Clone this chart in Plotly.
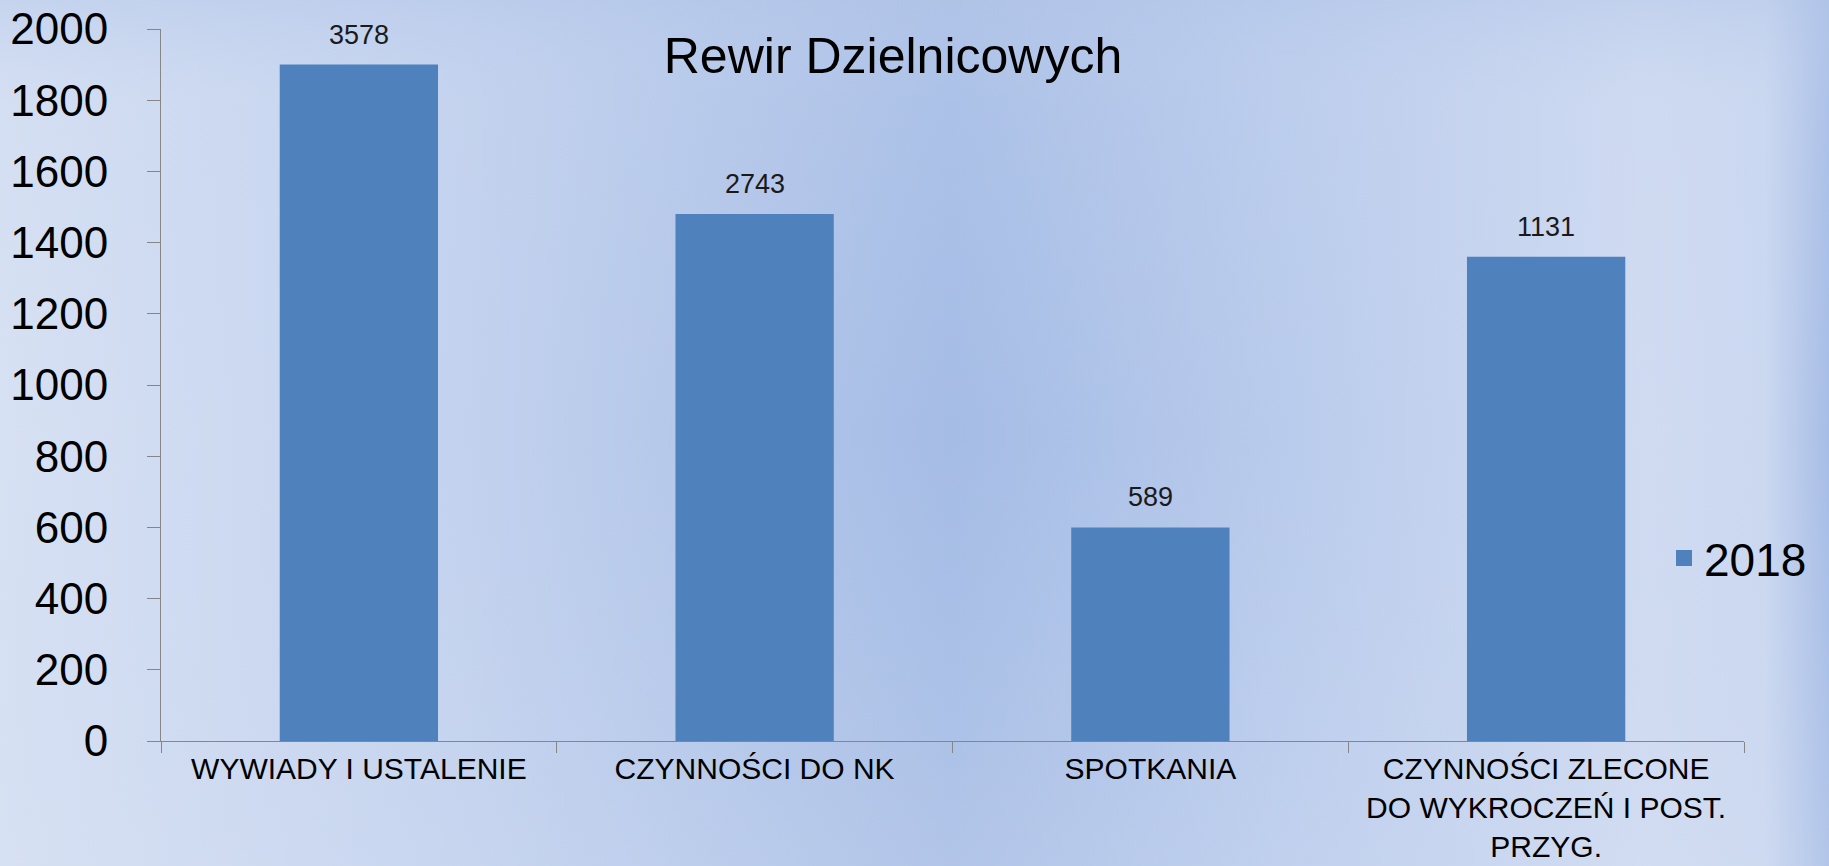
import base64
import plotly.graph_objects as go

# ---- data ----
categories = ["WYWIADY I USTALENIE", "CZYNNOŚCI DO NK", "SPOTKANIA",
              "CZYNNOŚCI ZLECONE DO WYKROCZEŃ I POST. PRZYG."]
tick_labels = ["WYWIADY I USTALENIE", "CZYNNOŚCI DO NK", "SPOTKANIA",
               "CZYNNOŚCI ZLECONE<br>DO WYKROCZEŃ I POST.<br>PRZYG."]
bar_heights = [1900, 1480, 600, 1360]
value_labels = ["3578", "2743", "589", "1131"]
series_name = "2018"
y_ticks = [0, 200, 400, 600, 800, 1000, 1200, 1400, 1600, 1800, 2000]

W, H = 1829, 866
ML, MR, MT, MB = 161, 85, 29, 125
FONT = "Liberation Sans, Arial, sans-serif"
BAR = "#4f81bd"

# background gradient as inline SVG
svg = f"""<svg xmlns='http://www.w3.org/2000/svg' width='{W}' height='{H}' viewBox='0 0 {W} {H}' preserveAspectRatio='none'>
<defs>
<linearGradient id='h' x1='0' y1='0' x2='1' y2='0'>
<stop offset='0' stop-color='#d7e1f3'/>
<stop offset='0.25' stop-color='#c3d2ee'/>
<stop offset='0.52' stop-color='#a5bce5'/>
<stop offset='0.7' stop-color='#b9cbec'/>
<stop offset='0.9' stop-color='#d0dbf1'/>
<stop offset='0.965' stop-color='#cbd8f0'/>
<stop offset='1' stop-color='#a7bde6'/>
</linearGradient>
<linearGradient id='v' x1='0' y1='0' x2='0' y2='1'>
<stop offset='0' stop-color='#b7c9ea' stop-opacity='0.55'/>
<stop offset='0.12' stop-color='#c8d6f0' stop-opacity='0.2'/>
<stop offset='0.5' stop-color='#c8d6f0' stop-opacity='0'/>
<stop offset='1' stop-color='#d6e0f3' stop-opacity='0.25'/>
</linearGradient>
</defs>
<rect x='0' y='0' width='{W}' height='{H}' fill='url(#h)'/>
<rect x='0' y='0' width='{W}' height='{H}' fill='url(#v)'/>
</svg>"""
bg_src = "data:image/svg+xml;base64," + base64.b64encode(svg.encode()).decode()

pw, ph = W - ML - MR, H - MT - MB

fig = go.Figure()
fig.add_trace(go.Bar(
    x=categories, y=bar_heights, name=series_name, showlegend=False,
    marker=dict(color=BAR, line=dict(width=0)),
    hoverinfo="skip",
))
# legend entry for the series (larger square symbol)
fig.add_trace(go.Scatter(
    x=[None], y=[None], mode="markers", name=series_name,
    marker=dict(symbol="square", size=22, color=BAR),
))

for c, h, t in zip(categories, bar_heights, value_labels):
    fig.add_annotation(x=c, y=h, text=t, showarrow=False, yanchor="middle",
                       yshift=30, font=dict(family=FONT, size=27, color="#1a1a1a"))

fig.update_layout(
    width=W, height=H,
    margin=dict(l=ML, r=MR, t=MT, b=MB, autoexpand=False),
    paper_bgcolor="#c3d2ee",
    plot_bgcolor="rgba(0,0,0,0)",
    bargap=0.6,
    font=dict(family=FONT, color="#000000"),
    title=dict(text="Rewir Dzielnicowych", x=(893 - ML) / pw, xref="paper",
               xanchor="center", y=1 - 55 / H, yanchor="middle",
               font=dict(family=FONT, size=50, color="#000000")),
    showlegend=True,
    legend=dict(x=(1664 - ML) / pw, xanchor="left", y=(741 - 558) / ph,
                yanchor="middle", bgcolor="rgba(0,0,0,0)", itemsizing="trace",
                font=dict(family=FONT, size=46, color="#000000")),
    images=[dict(source=bg_src, xref="paper", yref="paper",
                 x=-ML / pw, y=1 + MT / ph, sizex=W / pw, sizey=H / ph,
                 xanchor="left", yanchor="top", sizing="stretch",
                 layer="below", opacity=1)],
)

fig.update_xaxes(
    tickmode="array", tickvals=categories, ticktext=tick_labels,
    tickson="boundaries", ticks="outside", ticklen=11, tickcolor="#868686",
    showline=True, linecolor="#868686", linewidth=1,
    showgrid=False, zeroline=False, ticklabelstandoff=1,
    tickfont=dict(family=FONT, size=30, color="#000000"),
)
fig.update_yaxes(
    range=[0, 2000], tickmode="array", tickvals=y_ticks,
    ticks="outside", ticklen=13, tickcolor="#868686",
    showline=True, linecolor="#868686", linewidth=1,
    showgrid=False, zeroline=False, ticklabelstandoff=30,
    tickfont=dict(family=FONT, size=44, color="#000000"),
)

fig.write_html("out.html", config={"displayModeBar": False},
               post_script="document.body.style.margin='0';document.body.style.overflow='hidden';")
